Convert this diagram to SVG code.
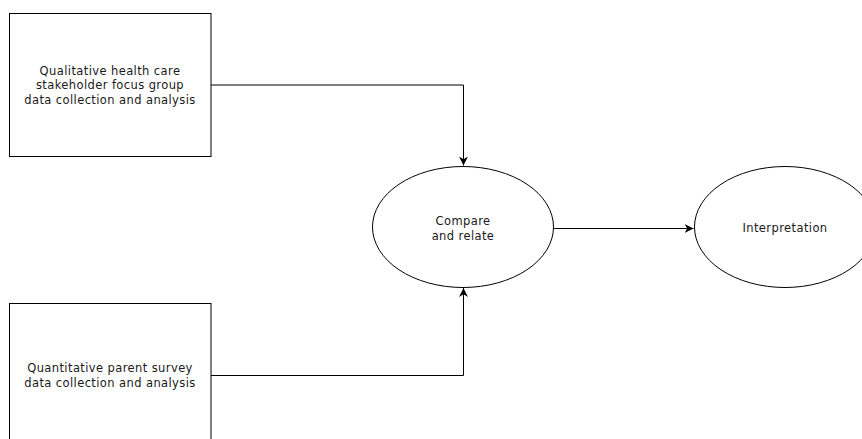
<svg xmlns="http://www.w3.org/2000/svg" width="862" height="439" viewBox="0 0 862 439">
<style>
.box{fill:#fff;stroke:#000;stroke-width:1}
.lbl{font-family:"DejaVu Sans",sans-serif;font-size:11.5px;letter-spacing:0.4px;fill:#1a1a1a;text-anchor:middle}
.edge{fill:none;stroke:#000;stroke-width:1}
</style>
<defs>
<marker id="arr" viewBox="0 0 10 10" refX="10" refY="5" markerWidth="9" markerHeight="9" markerUnits="userSpaceOnUse" orient="auto">
<path d="M0,0 L10,5 L0,10 L3,5 Z" fill="#000"/>
</marker>
</defs>
<rect width="862" height="439" fill="#fff"/>
<g id="connectors">
<path class="edge" d="M211,85 H463.5 V165.5" marker-end="url(#arr)"/>
<path class="edge" d="M211,375.5 H463.5 V288" marker-end="url(#arr)"/>
<path class="edge" d="M553.5,228.5 H693.5" marker-end="url(#arr)"/>
</g>
<g id="qualitative">
<rect class="box" x="9.5" y="13.5" width="201.5" height="143"/>
<text class="lbl" x="110" y="74.5">Qualitative health care</text>
<text class="lbl" x="110" y="89">stakeholder focus group</text>
<text class="lbl" x="110" y="103.5">data collection and analysis</text>
</g>
<g id="quantitative">
<rect class="box" x="9.5" y="303.5" width="201.5" height="143"/>
<text class="lbl" x="110" y="372">Quantitative parent survey</text>
<text class="lbl" x="110" y="386.5">data collection and analysis</text>
</g>
<g id="compare">
<ellipse class="box" cx="463" cy="227" rx="90.5" ry="60.5"/>
<text class="lbl" x="463" y="225">Compare</text>
<text class="lbl" x="463" y="240">and relate</text>
</g>
<g id="interpretation">
<ellipse class="box" cx="785" cy="227" rx="90.5" ry="60.5"/>
<text class="lbl" x="785" y="232">Interpretation</text>
</g>
</svg>
